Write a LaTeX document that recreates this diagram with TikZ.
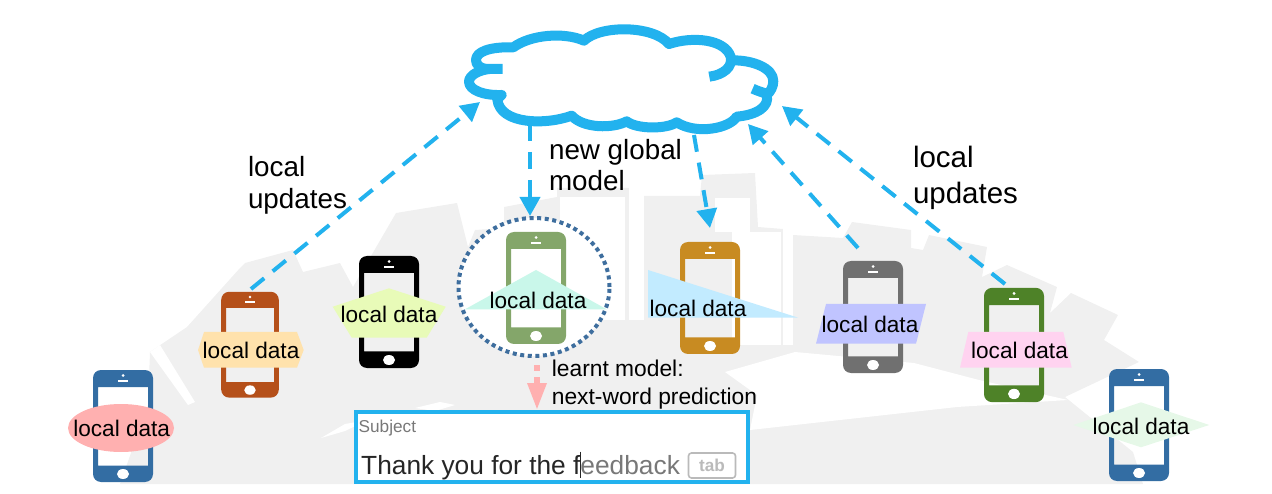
\documentclass[tikz,border=0pt]{standalone}
\usepackage{fontspec}
\setmainfont{Liberation Sans}
\usetikzlibrary{shapes.geometric,arrows.meta,positioning}
\definecolor{cloudblue} {HTML}{22B2EE}
\definecolor{ringblue}  {HTML}{3E6E9E}
\definecolor{fanback}   {HTML}{F0F0F0}
\definecolor{learnpink} {HTML}{FFB0B0}
\definecolor{phblue}    {HTML}{336DA3}
\definecolor{phrust}    {HTML}{B5501A}
\definecolor{phsage}    {HTML}{84A66A}
\definecolor{phamber}   {HTML}{C88B22}
\definecolor{phgrey}    {HTML}{707070}
\definecolor{phgreen}   {HTML}{4E8228}
\definecolor{datarose}  {HTML}{FFB0B0}
\definecolor{datasand}  {HTML}{FFE2AC}
\definecolor{datalime}  {HTML}{E8FBB8}
\definecolor{datamint}  {HTML}{C9F7EA}
\definecolor{datasky}   {HTML}{C2EBFF}
\definecolor{datairis}  {HTML}{C0C4FF}
\definecolor{datapink}  {HTML}{FFD3F0}
\definecolor{datadew}   {HTML}{E6F8E8}
\begin{document}
\begin{tikzpicture}[
  x=1pt, y=-1pt,
  handset/.pic={
    \fill[#1,even odd rule,rounded corners=8pt] (-30,-56) rectangle (30,56)
      [sharp corners] (-25,-39) rectangle (25,39.5);
    \fill[white] (0,48) ellipse (6 and 5);
    \fill[white] (0,-50.5) circle (1.5);
    \fill[white] (-5,-46) rectangle (5,-44.4);
  },
  upd/.style   ={cloudblue,line width=4pt,dash pattern=on 17pt off 11pt,
                 -{Triangle[length=19pt,width=20pt]}},
  data/.style  ={font=\fontsize{22.6}{26}\selectfont,inner sep=0pt},
  lbl/.style   ={align=left,inner sep=0pt},
  fan/.style   ={fanback},
  gap/.style   ={white}
]
\useasboundingbox (0,0) rectangle (1272,494);

%% fan of faded phones behind everything
\fill[fan] (120,484) -- (148,405) -- (150,352) -- (187,327) -- (240,268) -- (245,263)
  -- (293,250) -- (303,272) -- (340,263) -- (353,287) -- (396,213) -- (457,203)
  -- (468,247) -- (475,230) -- (504,228) -- (504,207) -- (557,197) -- (557,188)
  -- (629,188) -- (644,196) -- (700,196) -- (702,175) -- (755,173) -- (758,227)
  -- (783,229) -- (793,235) -- (843,238) -- (852,222) -- (911,230) -- (911,248)
  -- (923,250) -- (929,235) -- (987,247) -- (982,277) -- (1007,265) -- (1057,287)
  -- (1050,313) -- (1071,293) -- (1118,315) -- (1104,340) -- (1139,362) -- (1065,397)
  -- (1133,452) -- (1143,484) -- cycle;
\fill[gap] (750,430) -- (757,395) -- (725,372) -- (795,352) -- (914,363) -- (979,380)
  -- (1068,400) -- (957,407) -- cycle;
\fill[gap] (560,197) rectangle (625,320);
\fill[gap] (629,186) rectangle (644,320);
\fill[gap] (715,198) rectangle (750,232);
\fill[gap] (732,232) rectangle (781,345);
\fill[gap] (783,225) rectangle (793,345);
\fill[gap] (150,352) -- (160,345) -- (195,402) -- (188,405) -- cycle;
\fill[gap] (321,438) -- (345,424) -- (368,420) -- (345,431) -- cycle;
\fill[gap] (415,408) -- (440,402) -- (455,405) -- (435,411) -- cycle;

%% cloud
\begin{scope}[shift={(440,0)},x=.3333pt,y=-.3333pt,cloudblue,line width=10pt,line join=round]
\draw (188,207) -- (140,207) .. controls (120,205) and (108,195) .. (108,180)
  .. controls (108,155) and (150,140) .. (220,142)
  .. controls (270,105) and (370,95) .. (432,122)
  .. controls (480,75) and (640,75) .. (687,132)
  .. controls (760,108) and (855,118) .. (872,170)
  .. controls (880,200) and (850,225) .. (808,230);
\draw (875,181) .. controls (940,180) and (1000,205) .. (1000,243)
  .. controls (1000,260) and (992,275) .. (980,285)
  .. controls (990,320) and (950,345) .. (890,350)
  .. controls (870,385) and (770,405) .. (710,367)
  .. controls (680,388) and (590,388) .. (560,364)
  .. controls (520,386) and (430,386) .. (395,347)
  .. controls (320,375) and (180,375) .. (172,298)
  -- (185,285) .. controls (130,287) and (87,270) .. (87,245)
  .. controls (87,225) and (120,209) .. (150,207);
\draw (985,283) .. controls (970,278) and (950,272) .. (938,266);
\end{scope}
\coordinate (cloudW)  at (480,102);
\coordinate (cloudS)  at (530,124);
\coordinate (cloudSE) at (694,135);
\coordinate (cloudE)  at (748,124);
\coordinate (cloudNE) at (782,106);

%% dotted ring round the phone that learns
\node[draw=ringblue,fill=white,ellipse,line width=4pt,dash pattern=on 4pt off 3.6pt,
      minimum width=151pt,minimum height=138pt,inner sep=0pt] (ring) at (534,287) {};

%% phones
\pic (pa) at (123,426)   {handset=phblue};
\pic[xscale=.96,yscale=.945] (pb) at (250,344.7) {handset=phrust};
\pic (pc) at (389,312)   {handset=black};
\pic (pd) at (536,288)   {handset=phsage};
\pic (pe) at (710,298)   {handset=phamber};
\pic (pf) at (873,317)   {handset=phgrey};
\pic[yscale=1.02] (pg) at (1014,345) {handset=phgreen};
\pic (ph) at (1139,425)  {handset=phblue};

%% data patches
\fill[datarose] (121,428) ellipse (53 and 24);
\fill[datasand] (198,350) -- (204,332) -- (297,332) -- (303.7,350) -- (297,367.7) -- (204,367.7) -- cycle;
\fill[datalime] (389,288.3) -- (445.7,306.7) -- (426.7,337.7) -- (351.7,337.7) -- (332.7,306.7) -- cycle;
\fill[datamint] (536,270) -- (606.7,309.3) -- (465,309.3) -- cycle;
\fill[datasky]  (648,270) -- (798.3,317.7) -- (648,317.7) -- cycle;
\fill[datairis] (826,304) -- (926,304) -- (916,343.7) -- (816,343.7) -- cycle;
\fill[datapink] (968.3,332) -- (1063.3,332) -- (1071.7,367.7) -- (960,367.7) -- cycle;
\fill[datadew]  (1073.3,425) -- (1141,402.3) -- (1209.3,425) -- (1141,447.3) -- cycle;

\node[data] (da) at (121.7,428) {local data};
\node[data] (db) at (251,350)   {local data};
\node[data] (dc) at (389,314)   {local data};
\node[data] (dd) at (538,300)   {local data};
\node[data] (de) at (698,308)   {local data};
\node[data] (df) at (870,324)   {local data};
\node[data] (dg) at (1019.5,350) {local data};
\node[data] (dh) at (1141,426)  {local data};

%% typing box
\node[draw=cloudblue,fill=white,line width=4pt,minimum width=392pt,minimum height=70pt,
      inner sep=0pt] (box) at (552,447) {};
\node[anchor=west,inner sep=0pt,text=black!53,font=\fontsize{17.2}{20}\selectfont] (subj)
  at (358.5,428) {Subject};
\node[anchor=base west,inner sep=0pt,font=\fontsize{26.3}{30}\selectfont,text=black!85] (typed)
  at (361,474) {Thank you for the f\textcolor{black!53}{eedback}};
\draw[black!85,line width=1.4pt] (580.7,451.7) -- (580.7,478.3);
\node[draw=black!27,rounded corners=3pt,line width=1.6pt,minimum width=47pt,minimum height=25pt,
      inner sep=0pt,text=black!27,font=\fontsize{17.2}{20}\selectfont\bfseries] (tab) at (712,465.5) {tab};

%% updates
\coordinate (outB) at (251,289);
\coordinate (outF) at (858,248);
\coordinate (outG) at (1005,284);
\coordinate (inE)  at (710,228);
\draw[upd] (outB) -- (cloudW);
\draw[upd] (cloudS) -- (cloudS |- ring.north);
\draw[upd] (cloudSE) -- (inE);
\draw[upd] (outF) -- (cloudE);
\draw[upd] (outG) -- (cloudNE);

%% learnt model arrow
\draw[learnpink,line width=6pt,dash pattern=on 6pt off 6pt,
      -{Triangle[length=27pt,width=18pt]}]
  ([xshift=3pt,yshift=-7pt]ring.south) -- ([xshift=-15pt]box.north);

%% texts
\node[lbl,font=\fontsize{27.8}{32}\selectfont] (lupa) at (297.5,185) {local\\updates};
\node[lbl,font=\fontsize{29.5}{36}\selectfont] (lupb) at (965.5,178) {local\\updates};
\node[lbl,font=\fontsize{27.8}{31}\selectfont] (newg) at (615.5,165) {new global\\model};
\node[lbl,font=\fontsize{22.8}{28}\selectfont] (lern) at (654.5,385) {learnt model:\\next-word prediction};
\end{tikzpicture}
\end{document}
